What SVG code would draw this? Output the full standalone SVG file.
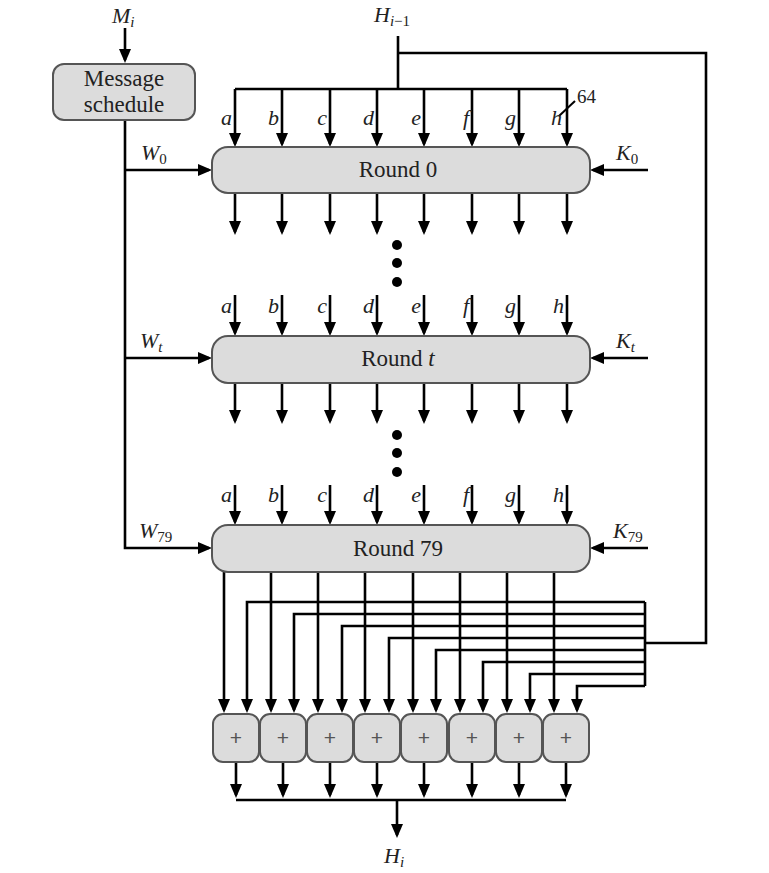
<svg xmlns="http://www.w3.org/2000/svg" width="769" height="873" viewBox="0 0 769 873">
<style>
text{font-family:"Liberation Serif","Times New Roman",serif;fill:#222;}
.lbl{font-size:23px;}
.it{font-size:22px;font-style:italic;}
.sub{font-size:15px;}
.up{font-style:normal;}
.box{fill:#dcdcdc;stroke:#555;stroke-width:2;}
.w{fill:none;stroke:#000;stroke-width:2.6;}
.a{fill:none;stroke:#000;stroke-width:2.6;marker-end:url(#ah);}
.plus{font-family:"Liberation Sans",Arial,sans-serif;font-size:21px;fill:#555;}
</style>
<defs>
<marker id="ah" markerUnits="userSpaceOnUse" markerWidth="16" markerHeight="12" refX="11" refY="6" orient="auto">
<path d="M0,0 L14,6 L0,12 z" fill="#000"/>
</marker>
</defs>
<rect x="0" y="0" width="769" height="873" fill="#fff"/>

<g id="connectors">
<path class="a" d="M125,28 V60"/>
<path class="a" d="M125,120 V548 H209"/>
<path class="a" d="M125,170 H209"/>
<path class="a" d="M125,358 H209"/>
<path class="w" d="M398,36 V89"/>
<path class="w" d="M235,89 H567"/>
<path class="w" d="M398,53 H706 V643 H645"/>
<path class="a" d="M235,89 V144"/><path class="a" d="M282,89 V144"/><path class="a" d="M330,89 V144"/><path class="a" d="M377,89 V144"/>
<path class="a" d="M424,89 V144"/><path class="a" d="M472,89 V144"/><path class="a" d="M519,89 V144"/><path class="a" d="M567,89 V144"/>
<path d="M559,116 L575,101" stroke="#000" stroke-width="2"/>
<path class="a" d="M235,193 V232"/><path class="a" d="M282,193 V232"/><path class="a" d="M330,193 V232"/><path class="a" d="M377,193 V232"/>
<path class="a" d="M424,193 V232"/><path class="a" d="M472,193 V232"/><path class="a" d="M519,193 V232"/><path class="a" d="M567,193 V232"/>
<path class="a" d="M235,295 V333"/><path class="a" d="M282,295 V333"/><path class="a" d="M330,295 V333"/><path class="a" d="M377,295 V333"/>
<path class="a" d="M424,295 V333"/><path class="a" d="M472,295 V333"/><path class="a" d="M519,295 V333"/><path class="a" d="M567,295 V333"/>
<path class="a" d="M235,383 V421"/><path class="a" d="M282,383 V421"/><path class="a" d="M330,383 V421"/><path class="a" d="M377,383 V421"/>
<path class="a" d="M424,383 V421"/><path class="a" d="M472,383 V421"/><path class="a" d="M519,383 V421"/><path class="a" d="M567,383 V421"/>
<path class="a" d="M235,485 V522"/><path class="a" d="M282,485 V522"/><path class="a" d="M330,485 V522"/><path class="a" d="M377,485 V522"/>
<path class="a" d="M424,485 V522"/><path class="a" d="M472,485 V522"/><path class="a" d="M519,485 V522"/><path class="a" d="M567,485 V522"/>
<path class="a" d="M648,170 H593"/>
<path class="a" d="M648,358 H593"/>
<path class="a" d="M648,548 H593"/>
<path class="a" d="M224,572 V710"/><path class="a" d="M271,572 V710"/><path class="a" d="M318,572 V710"/><path class="a" d="M365,572 V710"/>
<path class="a" d="M413,572 V710"/><path class="a" d="M460,572 V710"/><path class="a" d="M507,572 V710"/><path class="a" d="M554,572 V710"/>
<path class="w" d="M645,602 V686"/>
<path class="a" d="M645,602 H247 V710"/>
<path class="a" d="M645,614 H294 V710"/>
<path class="a" d="M645,626 H342 V710"/>
<path class="a" d="M645,638 H389 V710"/>
<path class="a" d="M645,650 H436 V710"/>
<path class="a" d="M645,662 H483 V710"/>
<path class="a" d="M645,674 H530 V710"/>
<path class="a" d="M645,686 H577 V710"/>
<path class="a" d="M236,762 V795"/><path class="a" d="M283,762 V795"/><path class="a" d="M330,762 V795"/><path class="a" d="M377,762 V795"/>
<path class="a" d="M424,762 V795"/><path class="a" d="M472,762 V795"/><path class="a" d="M519,762 V795"/><path class="a" d="M566,762 V795"/>
<path class="w" d="M236,800 H566"/>
<path class="a" d="M397,800 V835"/>
</g>

<g id="labels">
<text class="it" x="112" y="23">M<tspan class="sub" dy="4">i</tspan></text>
<text class="it" x="374" y="22">H<tspan class="sub" dy="4">i<tspan class="up">−1</tspan></tspan></text>
<text x="577" y="103" style="font-size:19px">64</text>
<text class="it" x="141" y="160">W<tspan class="sub up" dy="4">0</tspan></text>
<text class="it" x="616" y="160">K<tspan class="sub up" dy="4">0</tspan></text>
<text class="it" x="140" y="348">W<tspan class="sub" dy="4">t</tspan></text>
<text class="it" x="616" y="348">K<tspan class="sub" dy="4">t</tspan></text>
<text class="it" x="139" y="538">W<tspan class="sub up" dy="4">79</tspan></text>
<text class="it" x="613" y="538">K<tspan class="sub up" dy="4">79</tspan></text>
<text class="it" x="384" y="863">H<tspan class="sub" dy="4">i</tspan></text>
</g>

<g id="labels-round0" text-anchor="end">
<text class="it" x="232" y="125">a</text><text class="it" x="279" y="125">b</text><text class="it" x="327" y="125">c</text><text class="it" x="374" y="125">d</text>
<text class="it" x="421" y="125">e</text><text class="it" x="469" y="125">f</text><text class="it" x="516" y="125">g</text><text class="it" x="562" y="125">h</text>
</g>
<g id="labels-roundt" text-anchor="end">
<text class="it" x="232" y="313">a</text><text class="it" x="279" y="313">b</text><text class="it" x="327" y="313">c</text><text class="it" x="374" y="313">d</text>
<text class="it" x="421" y="313">e</text><text class="it" x="469" y="313">f</text><text class="it" x="516" y="313">g</text><text class="it" x="564" y="313">h</text>
</g>
<g id="labels-round79" text-anchor="end">
<text class="it" x="232" y="502">a</text><text class="it" x="279" y="502">b</text><text class="it" x="327" y="502">c</text><text class="it" x="374" y="502">d</text>
<text class="it" x="421" y="502">e</text><text class="it" x="469" y="502">f</text><text class="it" x="516" y="502">g</text><text class="it" x="564" y="502">h</text>
</g>

<g id="message-schedule">
<rect class="box" x="53" y="64" width="142" height="56" rx="11"/>
<text class="lbl" x="124" y="86" text-anchor="middle">Message</text>
<text class="lbl" x="124" y="112" text-anchor="middle">schedule</text>
</g>
<g id="round0">
<rect class="box" x="212" y="147" width="378" height="46" rx="16"/>
<text class="lbl" x="398" y="177" text-anchor="middle">Round 0</text>
</g>
<g id="dots1">
<circle cx="397" cy="245" r="5"/><circle cx="397" cy="263" r="5"/><circle cx="397" cy="282" r="5"/>
</g>
<g id="roundt">
<rect class="box" x="212" y="336" width="378" height="47" rx="16"/>
<text class="lbl" x="398" y="366" text-anchor="middle">Round <tspan font-style="italic">t</tspan></text>
</g>
<g id="dots2">
<circle cx="397" cy="435" r="5"/><circle cx="397" cy="453" r="5"/><circle cx="397" cy="472" r="5"/>
</g>
<g id="round79">
<rect class="box" x="212" y="525" width="378" height="47" rx="16"/>
<text class="lbl" x="398" y="556" text-anchor="middle">Round 79</text>
</g>
<g id="adders">
<g id="add1"><rect class="box" x="213" y="714" width="46" height="48" rx="10"/><text class="plus" x="236" y="745" text-anchor="middle">+</text></g>
<g id="add2"><rect class="box" x="260" y="714" width="46" height="48" rx="10"/><text class="plus" x="283" y="745" text-anchor="middle">+</text></g>
<g id="add3"><rect class="box" x="307" y="714" width="46" height="48" rx="10"/><text class="plus" x="330" y="745" text-anchor="middle">+</text></g>
<g id="add4"><rect class="box" x="354" y="714" width="46" height="48" rx="10"/><text class="plus" x="377" y="745" text-anchor="middle">+</text></g>
<g id="add5"><rect class="box" x="401" y="714" width="46" height="48" rx="10"/><text class="plus" x="424" y="745" text-anchor="middle">+</text></g>
<g id="add6"><rect class="box" x="449" y="714" width="46" height="48" rx="10"/><text class="plus" x="472" y="745" text-anchor="middle">+</text></g>
<g id="add7"><rect class="box" x="496" y="714" width="46" height="48" rx="10"/><text class="plus" x="519" y="745" text-anchor="middle">+</text></g>
<g id="add8"><rect class="box" x="543" y="714" width="46" height="48" rx="10"/><text class="plus" x="566" y="745" text-anchor="middle">+</text></g>
</g>
</svg>
